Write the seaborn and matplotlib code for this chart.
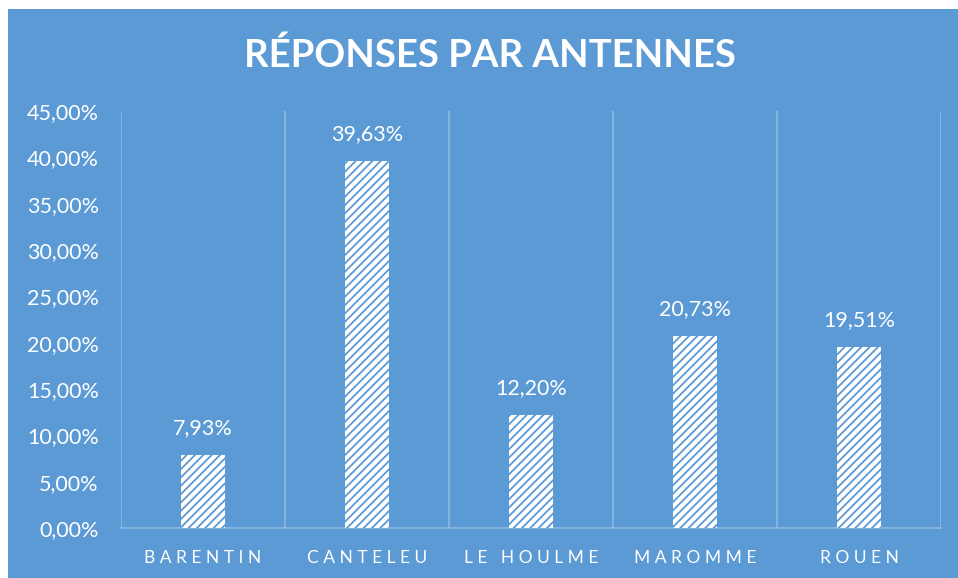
import matplotlib
matplotlib.use("Agg")
import matplotlib.pyplot as plt
from matplotlib.patches import Rectangle
import seaborn as sns

# -------------------------
# Data
# -------------------------
antennes = ["BARENTIN", "CANTELEU", "LE HOULME", "MAROMME", "ROUEN"]
reponses = [0.0793, 0.3963, 0.1220, 0.2073, 0.1951]
y_ticks = [0.00, 0.05, 0.10, 0.15, 0.20, 0.25, 0.30, 0.35, 0.40, 0.45]

BLUE = "#5B9AD5"
GRID = "#8DB9E3"

sns.set_style("white")
plt.rcParams["font.family"] = ["Lato", "DejaVu Sans"]
plt.rcParams["hatch.linewidth"] = 1.3


def fr_pct(v):
    return f"{v * 100:.2f}%".replace(".", ",")


fig = plt.figure(figsize=(9.58, 5.78), dpi=100, facecolor="white")
# blue chart panel (small white strip on top / left like the screenshot)
fig.patches.append(Rectangle((8 / 958, 0), 1, 1 - 9 / 578, transform=fig.transFigure,
                             facecolor=BLUE, edgecolor="none", zorder=-10))

ax = fig.add_axes([121 / 958, 1 - 528 / 578, 820 / 958, 417 / 578])
ax.set_zorder(2)
ax.set_facecolor(BLUE)

sns.barplot(x=antennes, y=reponses, ax=ax, color="white", saturation=1, width=0.27)

for p in ax.patches:
    p.set_facecolor("white")
    p.set_edgecolor(BLUE)
    p.set_linewidth(0)
    p.set_hatch("////")
    p.set_zorder(3)

ax.bar_label(ax.containers[0], labels=[fr_pct(v) for v in reponses],
             padding=12, color="white", fontsize=15.5)

# -------------------------
# Axes styling
# -------------------------
ax.set_ylim(0, 0.45)
ax.set_xlim(-0.5, len(antennes) - 0.5)
ax.set_yticks(y_ticks)
ax.set_yticklabels([fr_pct(v) for v in y_ticks], color="white", fontsize=15.5)
ax.set_xticks(range(len(antennes)))
ax.set_xticklabels([" ".join(a) for a in antennes], color="white", fontsize=12.5)
ax.tick_params(axis="both", length=0)
ax.tick_params(axis="y", pad=16)
ax.tick_params(axis="x", pad=16)

ax.set_xticks([i - 0.5 for i in range(len(antennes) + 1)], minor=True)
ax.tick_params(axis="x", which="minor", length=0)
ax.grid(False)
ax.grid(True, axis="x", which="minor", color=GRID, linewidth=1.2, zorder=1)
ax.set_axisbelow(True)

for side in ["top", "right", "left"]:
    ax.spines[side].set_visible(False)
ax.spines["bottom"].set_color(GRID)
ax.spines["bottom"].set_linewidth(1.2)

ax.set_xlabel("")
ax.set_ylabel("")

fig.text(490 / 958, 1 - 55 / 578, "RÉPONSES PAR ANTENNES", color="white",
         fontsize=27.5, fontweight="bold", ha="center", va="center", zorder=5)

fig.savefig("out.png", dpi=100, facecolor="white")
